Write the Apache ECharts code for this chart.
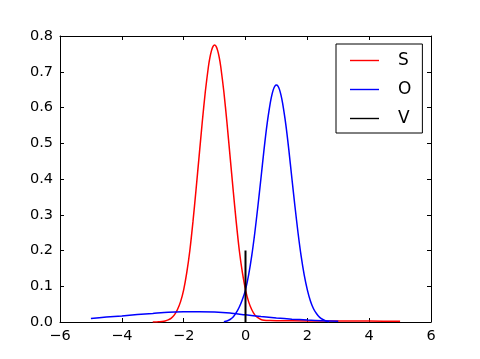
<!DOCTYPE html>
<html>
<head>
<meta charset="utf-8">
<script src="https://cdn.jsdelivr.net/npm/echarts@6/dist/echarts.min.js"></script>
<style>
html,body{margin:0;padding:0;background:#fff;}
#chart{width:480px;height:359px;}
</style>
</head>
<body>
<div id="chart"></div>
<script>
// ---- data ----
var legendNames = ['S', 'O', 'V'];
var xTicks = [-6, -4, -2, 0, 2, 4, 6];
var yTicks = [0.0, 0.1, 0.2, 0.3, 0.4, 0.5, 0.6, 0.7, 0.8];

var sX = [-3.0, -2.9, -2.8, -2.7, -2.6, -2.5, -2.4, -2.3, -2.2, -2.1, -2.0, -1.9, -1.8, -1.7, -1.6, -1.5, -1.4, -1.3, -1.2, -1.15, -1.1, -1.05, -1.0,
          -0.95, -0.9, -0.85, -0.8, -0.7, -0.6, -0.5, -0.4, -0.3, -0.2, -0.1, 0.0, 0.1, 0.2, 0.3, 0.4, 0.5, 0.6, 0.8, 1.0, 2.0, 3.0, 4.0, 5.0];
var sY = [0.0, 0.0002, 0.0008, 0.0015, 0.003, 0.006, 0.011, 0.020, 0.035, 0.057, 0.090, 0.138, 0.200, 0.280, 0.370, 0.464, 0.558, 0.644, 0.714, 0.740, 0.759, 0.771, 0.775,
          0.771, 0.759, 0.740, 0.714, 0.644, 0.558, 0.464, 0.370, 0.280, 0.200, 0.138, 0.090, 0.057, 0.035, 0.020, 0.012, 0.007, 0.005, 0.004, 0.0035, 0.003, 0.0028, 0.0025, 0.002];

var oX = [-0.7, -0.6, -0.5, -0.4, -0.3, -0.2, -0.1, 0.0, 0.1, 0.2, 0.3, 0.4, 0.5, 0.6, 0.7, 0.8, 0.85, 0.9, 0.95, 1.0,
          1.05, 1.1, 1.15, 1.2, 1.3, 1.4, 1.5, 1.6, 1.7, 1.8, 1.9, 2.0, 2.1, 2.2, 2.3, 2.4, 2.5, 2.6, 2.7];
var oY = [0.001, 0.003, 0.007, 0.014, 0.026, 0.042, 0.063, 0.090, 0.131, 0.184, 0.249, 0.323, 0.402, 0.483, 0.555, 0.612, 0.634, 0.650, 0.660, 0.663,
          0.660, 0.650, 0.634, 0.612, 0.555, 0.483, 0.402, 0.323, 0.249, 0.184, 0.131, 0.090, 0.059, 0.037, 0.023, 0.013, 0.007, 0.003, 0.001];

var oWideX = [-5.0, -4.5, -4.0, -3.5, -3.0, -2.5, -2.0, -1.5, -1.0, -0.5, 0.0, 0.5, 1.0, 1.5, 2.0, 2.5, 3.0];
var oWideY = [0.010, 0.014, 0.017, 0.021, 0.024, 0.027, 0.0285, 0.029, 0.028, 0.025, 0.020, 0.0155, 0.0115, 0.008, 0.0055, 0.0035, 0.002];

var vX = [0.0, 0.0];
var vY = [0.0, 0.2];

function pairs(xs, ys) {
  var out = [];
  for (var i = 0; i < xs.length; i++) out.push([xs[i], ys[i]]);
  return out;
}

var FONT = 'DejaVu Sans';
var chart = echarts.init(document.getElementById('chart'), null, {renderer: 'canvas'});

function xAxisDef(pos, showLabel) {
  return {
    type: 'value', position: pos,
    min: xTicks[0], max: xTicks[xTicks.length - 1], interval: xTicks[1] - xTicks[0],
    axisLine: {show: true, onZero: false, lineStyle: {color: '#000', width: 1}},
    axisTick: {show: true, inside: true, length: 4, lineStyle: {color: '#000', width: 1}},
    axisLabel: {show: showLabel, margin: 7, color: '#000', fontFamily: FONT, fontSize: 14.5,
      formatter: function (v) { return String(v).replace('-', '\u2212'); }},
    splitLine: {show: false}
  };
}
function yAxisDef(pos, showLabel) {
  return {
    type: 'value', position: pos,
    min: yTicks[0], max: yTicks[yTicks.length - 1], interval: 0.1,
    axisLine: {show: true, onZero: false, lineStyle: {color: '#000', width: 1}},
    axisTick: {show: true, inside: true, length: 4, lineStyle: {color: '#000', width: 1}},
    axisLabel: {show: showLabel, margin: 7, color: '#000', fontFamily: FONT, fontSize: 14.5,
      formatter: function (v) { return v.toFixed(1); }},
    splitLine: {show: false}
  };
}

function lineSeries(name, data, color, w) {
  return {
    name: name, type: 'line', data: data, xAxisIndex: 0, yAxisIndex: 0,
    symbol: 'none', showSymbol: false, smooth: 0.25, animation: false,
    lineStyle: {color: color, width: w}, itemStyle: {color: color}
  };
}

// thin horizontal bar inside a 29x16 box (moveTo points fix the bounding box)
var LINE_ICON = 'path://M0,0 M0,7.3 L29,7.3 L29,8.7 L0,8.7 Z M29,16';

chart.setOption({
  animation: false,
  backgroundColor: '#fff',
  grid: {left: 60, right: 49, top: 36, bottom: 37, containLabel: false},
  xAxis: [xAxisDef('bottom', true), xAxisDef('top', false)],
  yAxis: [yAxisDef('left', true), yAxisDef('right', false)],
  legend: {
    data: legendNames.map(function (n) { return {name: n, icon: LINE_ICON}; }),
    orient: 'vertical',
    left: 336, top: 44,
    padding: [8, 11, 6, 14],
    itemWidth: 29, itemHeight: 16, itemGap: 12,
    borderColor: '#000', borderWidth: 1, backgroundColor: '#fff',
    textStyle: {color: '#000', fontFamily: FONT, fontSize: 17, lineHeight: 17, padding: [0, 0, 0, 14]},
    selectedMode: false
  },
  series: [
    lineSeries(legendNames[0], pairs(sX, sY), '#ff0000', 1.5),
    lineSeries(legendNames[1], pairs(oX, oY), '#0000ff', 1.5),
    lineSeries(legendNames[1], pairs(oWideX, oWideY), '#0000ff', 1.5),
    lineSeries(legendNames[2], pairs(vX, vY), '#000000', 2)
  ]
});
</script>
</body>
</html>
